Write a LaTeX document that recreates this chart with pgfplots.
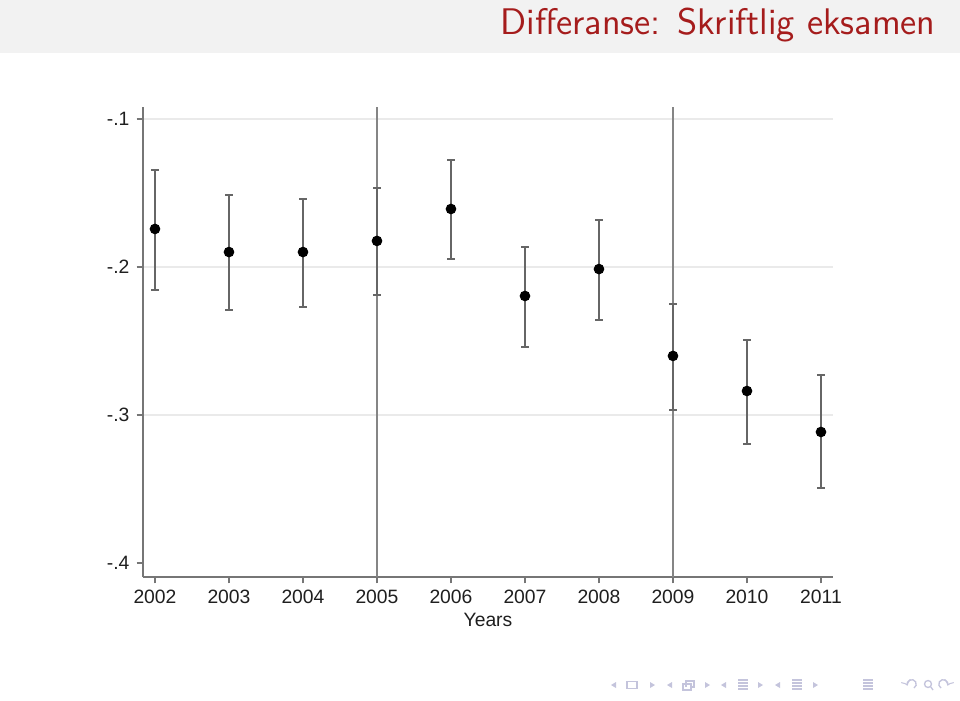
\documentclass[border=0pt]{standalone}
\usepackage{fontspec}
\usepackage{pgfplots}
\usepackage{pgfplotstable}
\pgfplotsset{compat=1.18}
\newfontfamily\stata{Liberation Sans}
\definecolor{titlered}{HTML}{A51C1C}
\definecolor{barbg}{HTML}{F2F2F2}
\definecolor{axgray}{HTML}{767676}
\definecolor{gridc}{HTML}{EAEAEA}
\definecolor{errc}{HTML}{666666}
\definecolor{vlc}{HTML}{858585}
\definecolor{navc}{HTML}{C4C4DC}

\pgfplotstableread{
x y ep em
2002 -0.1743 0.0398 0.0412
2003 -0.1899 0.0385 0.0391
2004 -0.1899 0.0359 0.0371
2005 -0.1824 0.0358 0.0366
2006 -0.1608 0.0331 0.0338
2007 -0.2196 0.0331 0.0344
2008 -0.2014 0.0332 0.0344
2009 -0.2601 0.0351 0.0365
2010 -0.2838 0.0345 0.0358
2011 -0.3115 0.0385 0.0378
}\data

\begin{document}
\begin{tikzpicture}[x=0.378pt,y=0.378pt]
\fill[white] (0,0) rectangle (960,700);
\fill[barbg] (0,647) rectangle (960,700);
\node[anchor=base east, text=titlered, font=\sffamily\fontsize{14.0}{16}\selectfont, inner sep=0pt] at (936,666) {Differanse: Skriftlig eksamen};

\begin{axis}[
  at={(54.054pt,46.494pt)}, anchor=south west,
  scale only axis, width=260.82pt, height=177.66pt,
  xmin=2001.838, xmax=2011.162, ymin=-0.4095, ymax=-0.0919,
  axis lines=left,
  axis line style={-, axgray, line width=1.1pt},
  tick align=outside, major tick length=2.4pt,
  tick style={axgray, line width=0.8pt},
  xtick={2002,2003,2004,2005,2006,2007,2008,2009,2010,2011},
  xticklabels={2002,2003,2004,2005,2006,2007,2008,2009,2010,2011},
  ytick={-0.4,-0.3,-0.2,-0.1},
  yticklabels={-.4,-.3,-.2,-.1},
  ticklabel style={font=\stata\fontsize{7.3}{8}\selectfont, text=black!88},
  xticklabel style={yshift=1.2pt},
  yticklabel style={xshift=0.8pt},
  xlabel={Years},
  xlabel style={font=\stata\fontsize{7.3}{8}\selectfont, text=black!88, yshift=3.2pt},
  clip=false,
]
\addplot[gridc, line width=0.8pt] coordinates {(2001.85,-0.1) (2011.162,-0.1)};
\addplot[gridc, line width=0.8pt] coordinates {(2001.85,-0.2) (2011.162,-0.2)};
\addplot[gridc, line width=0.8pt] coordinates {(2001.85,-0.3) (2011.162,-0.3)};
\addplot[vlc, line width=1.0pt] coordinates {(2005,-0.4095) (2005,-0.0919)};
\addplot[vlc, line width=1.0pt] coordinates {(2009,-0.4095) (2009,-0.0919)};
\addplot[draw=none, mark=none,
  error bars/.cd, y dir=both, y explicit,
  error bar style={draw=errc, line width=0.85pt},
  error mark options={draw=errc, line width=0.85pt, mark size=1.5pt, rotate=90}]
  table[x=x, y=y, y error plus=ep, y error minus=em] {\data};
\addplot[only marks, mark=*, mark size=1.8pt, black] table[x=x, y=y] {\data};
\end{axis}

% navigation symbols
\begin{scope}[navc]
\fill (616,12)--(616,18)--(611,15)--cycle;
\draw[line width=0.5pt] (627,11.5) rectangle (637,18.5);
\fill (650,12)--(650,18)--(655,15)--cycle;
\fill (672,12)--(672,18)--(667,15)--cycle;
\draw[line width=0.5pt] (683,10) rectangle (691,16) (686,13) -- (686,19) -- (694,19) -- (694,13) -- (691,13);
\fill (705,12)--(705,18)--(710,15)--cycle;
\fill (726,12)--(726,18)--(721,15)--cycle;
\draw[line width=0.5pt] (738,11)--(748,11) (738,14)--(748,14) (738,17)--(748,17) (738,20)--(748,20);
\fill (758,12)--(758,18)--(763,15)--cycle;
\fill (780,12)--(780,18)--(775,15)--cycle;
\draw[line width=0.5pt] (792,11)--(802,11) (792,14)--(802,14) (792,17)--(802,17) (792,20)--(802,20);
\fill (813,12)--(813,18)--(818,15)--cycle;
\draw[line width=0.5pt] (863,11)--(873,11) (863,14)--(873,14) (863,17)--(873,17) (863,20)--(873,20);
\draw[line width=0.5pt,->] (914,12) arc (-60:200:4.5);
\draw[line width=0.5pt] (928,16) circle (3.5) (930.5,13.5)--(933,10);
\draw[line width=0.5pt,->] (941,12) arc (240:-20:4.5);
\end{scope}
\end{tikzpicture}
\end{document}
